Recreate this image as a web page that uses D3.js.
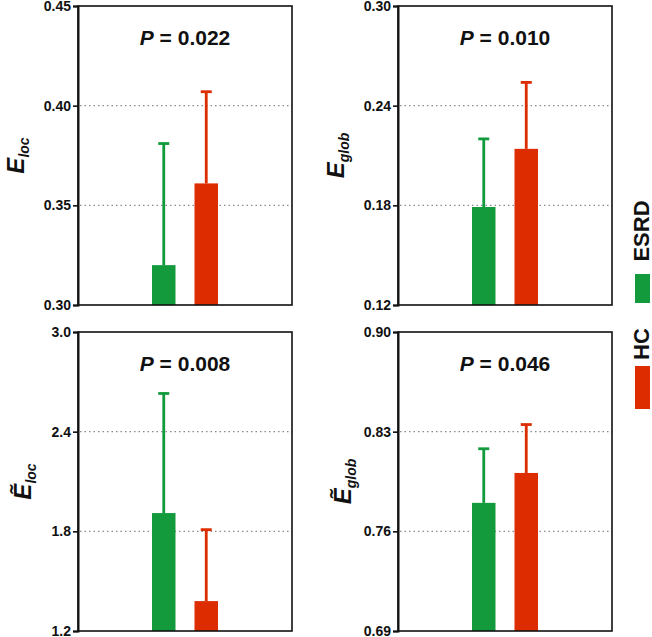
<!DOCTYPE html>
<html>
<head>
<meta charset="utf-8">
<script src="https://cdn.jsdelivr.net/npm/d3@7"></script>
<style>
  html, body { margin: 0; padding: 0; background: #fff; }
  svg { display: block; }
  text { font-family: "Liberation Sans", Arial, Helvetica, sans-serif; font-weight: bold; }
</style>
</head>
<body>
<svg id="chart" width="652" height="637"></svg>
<script>
// ---- data ----
const groups = ["ESRD", "HC"];
const groupColors = ["#129a3d", "#dc2c00"];
const metricBase = ["E", "E", "\u1EBC", "\u1EBC"];
const metricSub = ["loc", "glob", "loc", "glob"];
const means = [[0.320, 0.361], [0.179, 0.214], [1.91, 1.38], [0.780, 0.801]];
const upperErr = [[0.381, 0.407], [0.220, 0.254], [2.63, 1.81], [0.818, 0.835]];
const yDomains = [[0.30, 0.45], [0.12, 0.30], [1.2, 3.0], [0.69, 0.90]];
const yTicks = [[0.30, 0.35, 0.40, 0.45], [0.12, 0.18, 0.24, 0.30], [1.2, 1.8, 2.4, 3.0], [0.69, 0.76, 0.83, 0.90]];
const tickFormats = [".2f", ".2f", ".1f", ".2f"];
const pValues = ["0.022", "0.010", "0.008", "0.046"];

// ---- layout ----
const svg = d3.select("#chart");
const panelW = 214, panelH = 299;
const panelLeft = [78, 398, 78, 398];
const panelTop = [6, 6, 332, 332];
const labelX = [24, 344, 31, 351];

metricSub.forEach((sub, i) => {
  const x0 = panelLeft[i], y0 = panelTop[i];
  const g = svg.append("g").attr("transform", `translate(${x0},${y0})`);
  const y = d3.scaleLinear().domain(yDomains[i]).range([panelH, 0]);
  const cx = panelW / 2;
  const x = d3.scaleBand().domain(groups).range([cx - 33, cx + 33]).paddingInner(0.447).paddingOuter(0);

  // gridlines (dotted) at interior ticks
  g.append("g").selectAll("line")
    .data(yTicks[i].slice(1, -1))
    .join("line")
    .attr("x1", 2).attr("x2", panelW)
    .attr("y1", d => y(d)).attr("y2", d => y(d))
    .attr("stroke", "#8a8a8a").attr("stroke-width", 1.2)
    .attr("stroke-dasharray", "1.5,3");

  // error bars
  const eg = g.append("g");
  groups.forEach((grp, j) => {
    const mx = x(grp) + x.bandwidth() / 2;
    eg.append("line")
      .attr("x1", mx).attr("x2", mx)
      .attr("y1", y(means[i][j])).attr("y2", y(upperErr[i][j]))
      .attr("stroke", groupColors[j]).attr("stroke-width", 2.8);
    eg.append("line")
      .attr("x1", mx - 5.5).attr("x2", mx + 5.5)
      .attr("y1", y(upperErr[i][j])).attr("y2", y(upperErr[i][j]))
      .attr("stroke", groupColors[j]).attr("stroke-width", 2.8);
  });

  // bars
  g.append("g").selectAll("rect")
    .data(groups)
    .join("rect")
    .attr("x", d => x(d))
    .attr("width", x.bandwidth())
    .attr("y", (d, j) => y(means[i][j]))
    .attr("height", (d, j) => panelH - y(means[i][j]))
    .attr("fill", (d, j) => groupColors[j]);

  // frame
  g.append("rect")
    .attr("x", 0).attr("y", 0).attr("width", panelW).attr("height", panelH)
    .attr("fill", "none").attr("stroke", "#111").attr("stroke-width", 1.6);

  // y axis
  const axis = d3.axisLeft(y).tickValues(yTicks[i]).tickFormat(d3.format(tickFormats[i])).tickSize(5).tickPadding(2);
  const ag = g.append("g").call(axis);
  ag.select(".domain").attr("stroke", "#111").attr("stroke-width", 2);
  ag.selectAll(".tick line").attr("stroke", "#111").attr("stroke-width", 1.6);
  ag.selectAll(".tick text")
    .attr("font-size", 14).attr("font-weight", "bold").attr("fill", "#111")
    .attr("font-family", "'Liberation Sans', Arial, sans-serif");

  // title
  const t = g.append("text")
    .attr("x", cx).attr("y", 39)
    .attr("text-anchor", "middle")
    .attr("font-size", 21).attr("fill", "#111");
  t.append("tspan").attr("font-style", "italic").text("P");
  t.append("tspan").text(" = " + pValues[i]);

  // y label
  const yl = svg.append("text")
    .attr("transform", `translate(${labelX[i]},${y0 + panelH / 2}) rotate(-90)`)
    .attr("text-anchor", "middle")
    .attr("font-size", 24).attr("font-style", "italic").attr("fill", "#111");
  yl.append("tspan").text(metricBase[i]);
  yl.append("tspan").attr("font-size", 14).attr("dy", 5).text(sub);
});

// legend
const legendRectY = [274, 366];
const legendRectH = [29, 43];
const legendTextY = [231, 344];
groups.forEach((grp, j) => {
  svg.append("rect")
    .attr("x", 635).attr("y", legendRectY[j])
    .attr("width", 15).attr("height", legendRectH[j])
    .attr("fill", groupColors[j]);
  svg.append("text")
    .attr("transform", `translate(649,${legendTextY[j]}) rotate(-90)`)
    .attr("text-anchor", "middle")
    .attr("font-size", 22).attr("fill", "#111")
    .text(grp);
});
</script>
</body>
</html>
